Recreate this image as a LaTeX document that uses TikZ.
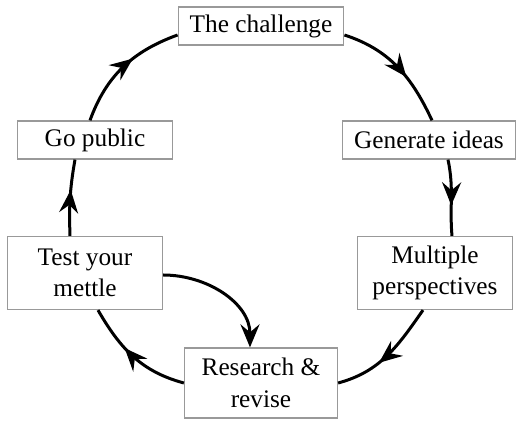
\documentclass[tikz,border=0pt]{standalone}
\usepackage{fontspec}
\setmainfont{Liberation Serif}
\usetikzlibrary{arrows.meta,decorations.markings}
\tikzset {>={Stealth[length=4.6mm,width=3.8mm,inset=1.6mm]}}
\tikzset {box/.style={draw=black!40,line width=0.25mm,fill=white,align=center,
    minimum width=31mm,minimum height=7.6mm,inner xsep=2.3mm,
    font=\fontsize{14.4}{18}\selectfont}}
\tikzset {cyc/.style={line width=0.6mm,postaction={decorate},
    decoration={markings,mark=at position 0.6 with {\arrow{>}}}}}

\begin{document}
\begin{tikzpicture}
\useasboundingbox (-52.2mm,-42.6mm) rectangle (51mm,42mm);
\node[box] (ch) at (0,36.8mm) {The challenge};
\node[box] (gi) at (33.6mm,14mm) {Generate ideas};
\node[box,minimum height=14.6mm] (mp) at (34.8mm,-12.6mm) {Multiple\\perspectives};
\node[box,minimum height=14mm,minimum width=30.6mm] (rr) at (0,-34.6mm) {Research \&\\revise};
\node[box,minimum height=14.6mm] (tm) at (-35.2mm,-12.6mm) {Test your\\mettle};
\node[box] (gp) at (-33.2mm,14mm) {Go public};
% the cycle
\draw[cyc] ([yshift=-1.8mm]ch.east) to[out=-18,in=115] ([xshift=0.6mm]gi.north);
\draw[cyc] ([xshift=3.8mm]gi.south) to[out=-78,in=95] ([xshift=3.4mm]mp.north);
\draw[cyc] ([xshift=-2.4mm]mp.south) to[out=-125,in=15] (rr.east);
\draw[cyc] (rr.west) to[out=165,in=-60] ([xshift=2.6mm]tm.south);
\draw[cyc] ([xshift=-3mm]tm.north) to[out=92,in=-100] ([xshift=-4mm]gp.south);
\draw[cyc] ([xshift=-1mm]gp.north) to[out=70,in=200] ([yshift=-1.8mm]ch.west);
% shortcut
\draw[->,line width=0.6mm] ([yshift=-0.4mm]tm.east) to[out=0,in=90] ([xshift=-2.2mm]rr.north);
\end{tikzpicture}
\end{document}
